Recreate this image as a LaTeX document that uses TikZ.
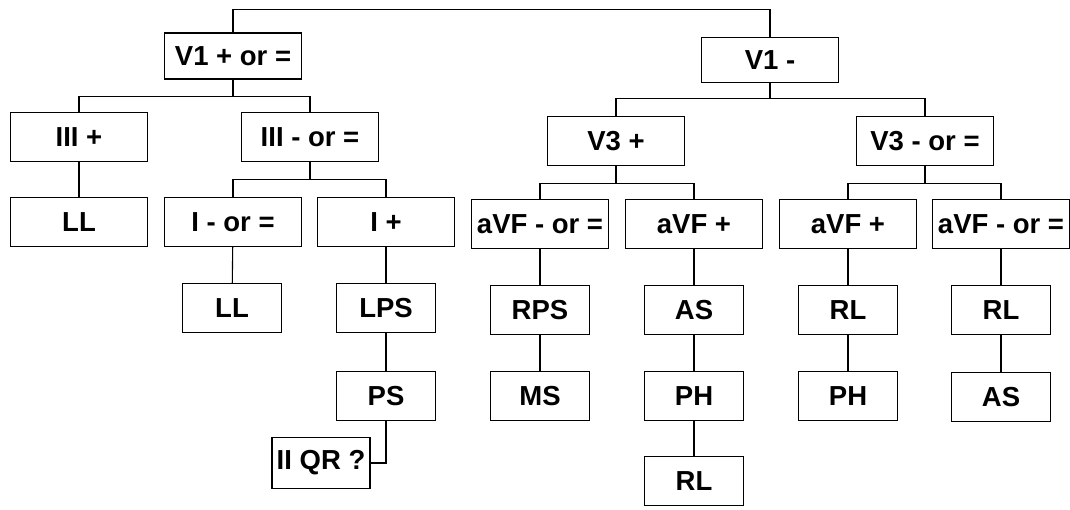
\documentclass[tikz,border=0pt]{standalone}
\usepackage{fontspec}
\setmainfont{Liberation Sans}
\usepackage{tikz}

\begin{document}
\begin{tikzpicture}[x=1pt, y=-1pt,
      box/.style={draw, line width=1.4pt, minimum width=137pt, minimum height=49pt,
                  inner sep=0pt, font=\fontsize{27.5}{31}\selectfont\bfseries},
      leaf/.style={box, minimum width=99pt},
      link/.style={line width=1.1pt}
    ]
    \useasboundingbox (0,0) rectangle (1070,510);

    % top split on V1
    \node[box, minimum height=46pt] (vonep) at (233,56)  {V1 + or =};
    \node[box, minimum height=45pt] (vonem) at (770,60)  {V1 -};

    % second level
    \node[box] (threep) at (79,137)  {III +};
    \node[box] (threem) at (310,137) {III - or =};
    \node[box] (vthrp)  at (616,141) {V3 +};
    \node[box] (vthrm)  at (925,141) {V3 - or =};

    % third level
    \node[box] (llA)    at (79,222)   {LL};
    \node[box] (onem)   at (233,222)  {I - or =};
    \node[box] (onep)   at (386,222)  {I +};
    \node[box] (avfmA)  at (540,224)  {aVF - or =};
    \node[box] (avfpA)  at (694,224)  {aVF +};
    \node[box] (avfpB)  at (848,224)  {aVF +};
    \node[box] (avfmB)  at (1001,224) {aVF - or =};

    % leaves
    \node[leaf] (llB)   at (232,308)  {LL};
    \node[leaf] (lps)   at (386,308)  {LPS};
    \node[leaf] (ps)    at (386,396)  {PS};
    \node[leaf, minimum width=98pt, minimum height=51pt] (qr) at (321,463) {II QR ?};
    \node[leaf] (rps)   at (540,310)  {RPS};
    \node[leaf] (ms)    at (540,396)  {MS};
    \node[leaf] (asA)   at (694,310)  {AS};
    \node[leaf] (phA)   at (694,396)  {PH};
    \node[leaf] (rlA)   at (694,481)  {RL};
    \node[leaf] (rlB)   at (848,310)  {RL};
    \node[leaf] (phB)   at (848,396)  {PH};
    \node[leaf] (rlC)   at (1001,310) {RL};
    \node[leaf] (asB)   at (1001,397) {AS};

    % connectors
    \draw[link] (vonep.north) -- ++(0,-23) -| (vonem.north);
    \draw[link] (vonep.south) -- ++(0,17) -| (threep.north);
    \draw[link] (vonep.south) -- ++(0,17) -| (threem.north);
    \draw[link] (vonem.south) -- ++(0,15) -| (vthrp.north);
    \draw[link] (vonem.south) -- ++(0,15) -| (vthrm.north);

    \draw[link] (threep) -- (llA);
    \draw[link] (threem.south) -- ++(0,17) -| (onem.north);
    \draw[link] (threem.south) -- ++(0,17) -| (onep.north);
    \draw[link] (vthrp.south) -- ++(0,17) -| (avfmA.north);
    \draw[link] (vthrp.south) -- ++(0,17) -| (avfpA.north);
    \draw[link] (vthrm.south) -- ++(0,17) -| (avfpB.north);
    \draw[link] (vthrm.south) -- ++(0,17) -| (avfmB.north);

    \draw[link] (onem) -- (llB);
    \draw[link] (onep) -- (lps);
    \draw[link] (lps) -- (ps);
    \draw[link] (ps.south) |- (qr.east);
    \draw[link] (avfmA) -- (rps);
    \draw[link] (rps) -- (ms);
    \draw[link] (avfpA) -- (asA);
    \draw[link] (asA) -- (phA);
    \draw[link] (phA) -- (rlA);
    \draw[link] (avfpB) -- (rlB);
    \draw[link] (rlB) -- (phB);
    \draw[link] (avfmB) -- (rlC);
    \draw[link] (rlC) -- (asB);
  \end{tikzpicture}
\end{document}
